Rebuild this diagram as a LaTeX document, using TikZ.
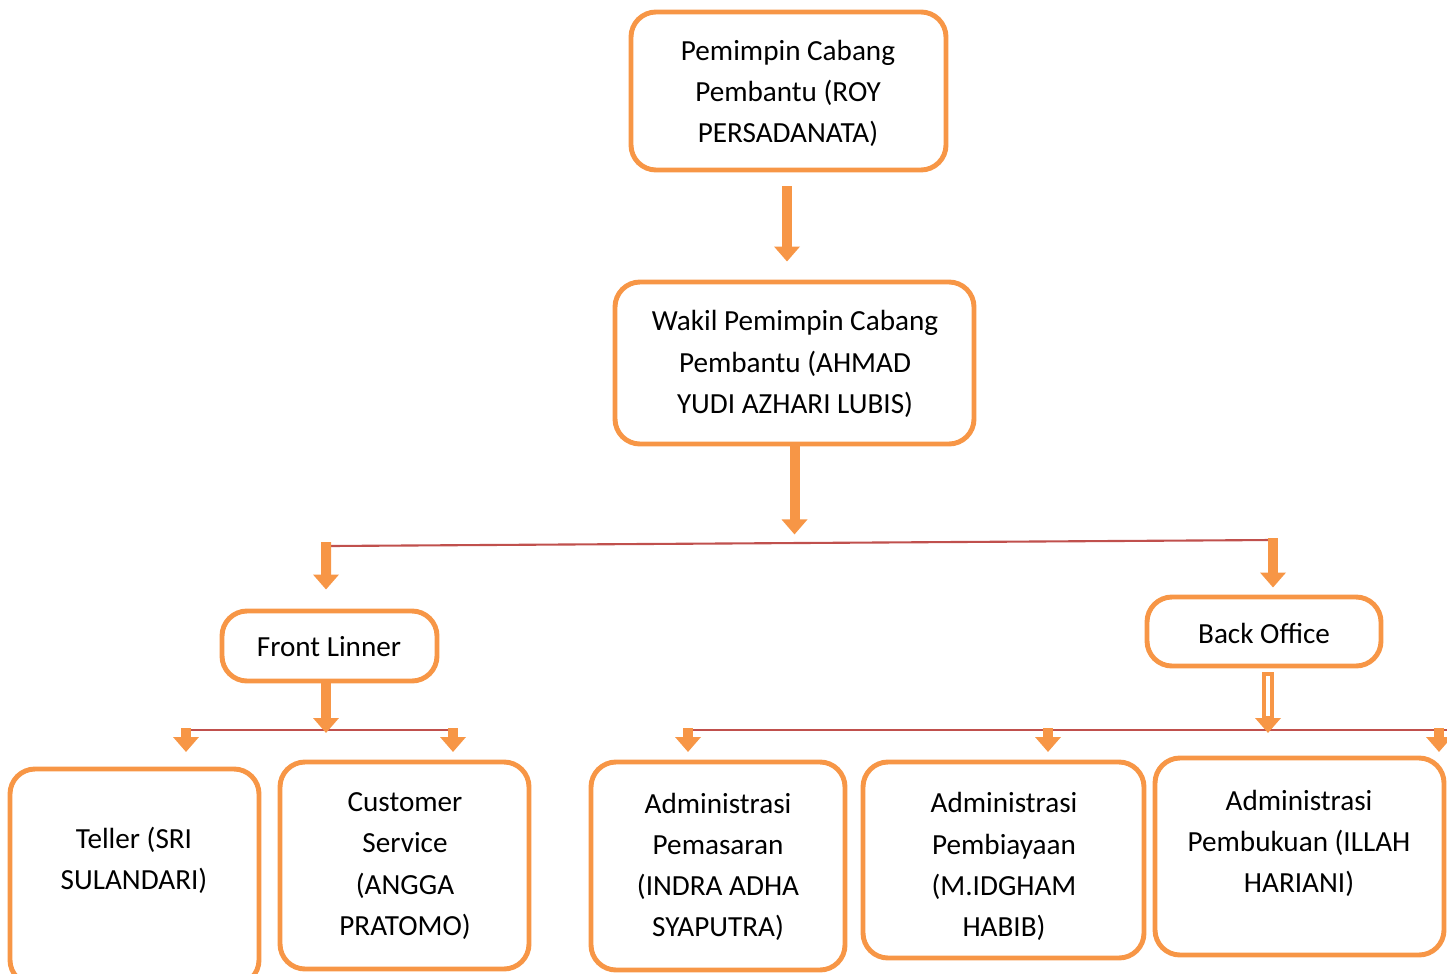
\documentclass[tikz,border=0pt]{standalone}
\usepackage{fontspec}
\setmainfont{Carlito}
\usetikzlibrary{arrows.meta,calc}
\definecolor{orng}{HTML}{F79646}
\definecolor{redline}{HTML}{C0504D}
\tikzstyle{box}=[draw=orng,line width=1.4pt,rounded corners=0.25cm,inner sep=0pt]
\tikzstyle{txt}=[align=center,font=\fontsize{8.3}{11.7}\selectfont,inner sep=0pt]
\tikzstyle{blockarrow}=[draw=orng,line width=0.1cm,-{Triangle[length=0.15cm,width=0.25cm]}]
\tikzstyle{busline}=[draw=redline,line width=0.6pt]
\begin{document}
\begin{tikzpicture}
\useasboundingbox (0,0) rectangle (14.47,-9.73);

%boxes
    \foreach \pos/\name/\w/\h in {{(7.885,-0.91)/top/3.15/1.58}, {(7.945,-3.63)/wakil/3.59/1.62},
                                  {(3.295,-6.46)/front/2.15/0.70}, {(12.64,-6.315)/back/2.34/0.69},
                                  {(1.345,-8.77)/teller/2.49/2.16}, {(4.045,-8.655)/cs/2.49/2.07},
                                  {(7.18,-8.66)/pemasaran/2.54/2.08}, {(10.035,-8.60)/pembiayaan/2.81/1.96},
                                  {(12.995,-8.565)/pembukuan/2.89/1.97}}
        \node[box,minimum width=\w cm,minimum height=\h cm] (\name) at \pos {};

%texts
  \node[txt] (toptxt) at (7.88,-0.935) {Pemimpin Cabang\\Pembantu (ROY\\PERSADANATA)};
  \node[txt] (wakiltxt) at (7.95,-3.64) {Wakil Pemimpin Cabang\\Pembantu (AHMAD\\YUDI AZHARI LUBIS)};
  \node[txt] (fronttxt) at (3.29,-6.47) {Front Linner};
  \node[txt] (backtxt) at (12.64,-6.33) {Back Office};
  \node[txt] (tellertxt) at (1.34,-8.60) {Teller (SRI\\SULANDARI)};
  \node[txt] (cstxt) at (4.05,-8.66) {Customer\\Service\\(ANGGA\\PRATOMO)};
  \node[txt] (pemasarantxt) at (7.18,-8.67) {Administrasi\\Pemasaran\\(INDRA ADHA\\SYAPUTRA)};
  \node[txt] (pembiayaantxt) at (10.04,-8.665) {Administrasi\\Pembiayaan\\(M.IDGHAM\\HABIB)};
  \node[txt] (pembukuantxt) at (12.99,-8.435) {Administrasi\\Pembukuan (ILLAH\\HARIANI)};

%bus lines
  \coordinate (busL) at (3.30,-5.46);
  \coordinate (busR) at (12.72,-5.40);
  \coordinate (flL) at (1.87,-7.30);
  \coordinate (flR) at (4.53,-7.30);
  \coordinate (boL) at (6.88,-7.30);
  \coordinate (boR) at (14.47,-7.30);
  \path[busline] (busL) -- (busR);
  \path[busline] (flL) -- (flR);
  \path[busline] (boL) -- (boR);

%layer 1
  \draw[blockarrow,shorten <=0.14cm,shorten >=0.18cm] (7.87,0 |- top.south) -- (7.87,0 |- wakil.north);
  \draw[blockarrow] (wakil.south) -- ($(wakil.south)+(0,-0.88)$);
%layer 2
  \draw[blockarrow,shorten >=0.19cm] ($(busL)+(-0.04,0.04)$) -- (3.26,0 |- front.north);
  \draw[blockarrow,shorten >=0.07cm] ($(busR)+(0.01,0.02)$) -- (12.73,0 |- back.north);
%layer 3
  \draw[blockarrow] (3.26,0 |- front.south) -- (3.26,-7.33);
  \draw[orng,line width=0.12cm,-{Triangle[length=0.15cm,width=0.25cm]}] (12.68,-6.72) -- (12.68,-7.33);
  \draw[white,line width=0.035cm] (12.68,-6.76) -- (12.68,-7.16);
  \foreach \x in {1.86,4.53,6.88,10.48,14.39}
      \draw[blockarrow] (\x,-7.28) -- (\x,-7.52);

\end{tikzpicture}
\end{document}
